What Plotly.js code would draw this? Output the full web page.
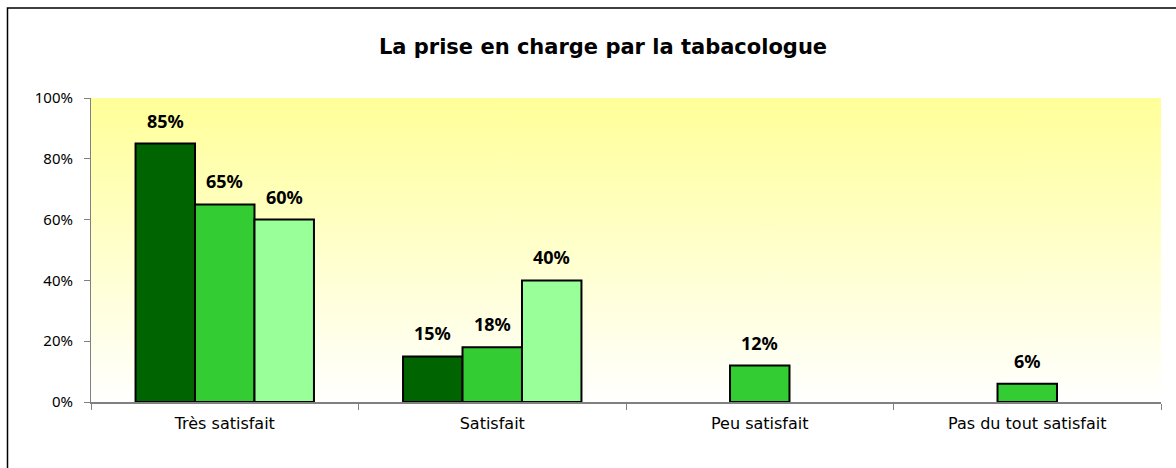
<!DOCTYPE html>
<html>
<head>
<meta charset="utf-8">
<script src="https://cdn.plot.ly/plotly-3.0.1.min.js"></script>
<style>
html,body{margin:0;padding:0;background:#fff;}
#chart{width:1176px;height:468px;}
</style>
</head>
<body>
<div id="chart"></div>
<script>
const categories = ["Très satisfait", "Satisfait", "Peu satisfait", "Pas du tout satisfait"];
const series1 = [85, 15, null, null];
const series2 = [65, 18, 12, 6];
const series3 = [60, 40, null, null];
const seriesNames = ["Série 1", "Série 2", "Série 3"];
const seriesColors = ["#006400", "#33CC33", "#99FF99"];
const yTicks = [0, 20, 40, 60, 80, 100];
const chartTitle = "La prise en charge par la tabacologue";

const FONT_TXT = "DejaVu Sans, Verdana, sans-serif";
const FONT_NUM = "Noto Sans, Open Sans, DejaVu Sans, sans-serif";

// gradient background image
const cv = document.createElement("canvas");
cv.width = 4; cv.height = 256;
const ctx = cv.getContext("2d");
const g = ctx.createLinearGradient(0, 0, 0, 256);
g.addColorStop(0, "#FFFF99");
g.addColorStop(1, "#FFFFFF");
ctx.fillStyle = g;
ctx.fillRect(0, 0, 4, 256);
const bgURL = cv.toDataURL("image/png");

const allSeries = [series1, series2, series3];
const traces = allSeries.map((vals, i) => ({
  type: "bar",
  name: seriesNames[i],
  x: categories,
  y: vals,
  marker: {color: seriesColors[i], line: {color: "#000000", width: 2}},
  hoverinfo: "x+y"
}));

const plotL = 91, plotR = 15, plotT = 98, plotB = 66;
const plotW = 1176 - plotL - plotR;
const bargap = 0.333;
const barPx = plotW / categories.length * (1 - bargap) / allSeries.length;

const annotations = [];
allSeries.forEach((vals, i) => {
  vals.forEach((v, j) => {
    if (v === null) return;
    annotations.push({
      x: categories[j], y: v, xref: "x", yref: "y",
      text: "<b>" + v + "%</b>", showarrow: false,
      xanchor: "center", yanchor: "bottom",
      xshift: (i - 1) * barPx, yshift: 9,
      font: {family: FONT_NUM, size: 18, color: "#000"}
    });
  });
});

const plotH = 468 - plotT - plotB;
const layout = {
  width: 1176, height: 468,
  margin: {l: plotL, r: plotR, t: plotT, b: plotB, pad: 0},
  paper_bgcolor: "#FFFFFF",
  plot_bgcolor: "rgba(0,0,0,0)",
  showlegend: false,
  barmode: "group",
  bargap: bargap,
  bargroupgap: 0,
  title: {
    text: "<b>" + chartTitle + "</b>",
    x: 603 / 1176, xref: "container", xanchor: "center",
    y: 1 - 47 / 468, yref: "container", yanchor: "middle",
    font: {family: FONT_TXT, size: 21, color: "#000"}
  },
  font: {family: FONT_TXT, size: 14, color: "#000"},
  xaxis: {
    type: "category",
    showgrid: false,
    showline: true, linecolor: "#808080", linewidth: 2,
    ticks: "outside", tickson: "boundaries", ticklen: 6, tickcolor: "#808080", tickwidth: 1,
    ticklabelstandoff: 6,
    tickfont: {family: FONT_TXT, size: 16, color: "#000"},
    fixedrange: true
  },
  yaxis: {
    range: [0, 100],
    tickvals: yTicks,
    ticktext: yTicks.map(v => v + "%"),
    showgrid: false, zeroline: false,
    showline: true, linecolor: "#808080", linewidth: 1,
    ticks: "outside", ticklen: 6, tickcolor: "#808080", tickwidth: 1,
    ticklabelstandoff: 8,
    tickfont: {family: FONT_NUM, size: 15, color: "#000"},
    fixedrange: true
  },
  images: [{
    source: bgURL, xref: "paper", yref: "paper",
    x: 0, y: 1, sizex: 1, sizey: 1,
    sizing: "stretch", xanchor: "left", yanchor: "top", layer: "below"
  }],
  shapes: [{
    type: "rect", xref: "paper", yref: "paper",
    x0: (7.5 - plotL) / plotW, x1: (1190 - plotL) / plotW,
    y0: -(80) / plotH, y1: 1 + (plotT - 8) / plotH,
    line: {color: "#000000", width: 1.5},
    fillcolor: "rgba(0,0,0,0)", layer: "above"
  }],
  annotations: annotations
};

Plotly.newPlot("chart", traces, layout, {displayModeBar: false, staticPlot: true});
</script>
</body>
</html>
